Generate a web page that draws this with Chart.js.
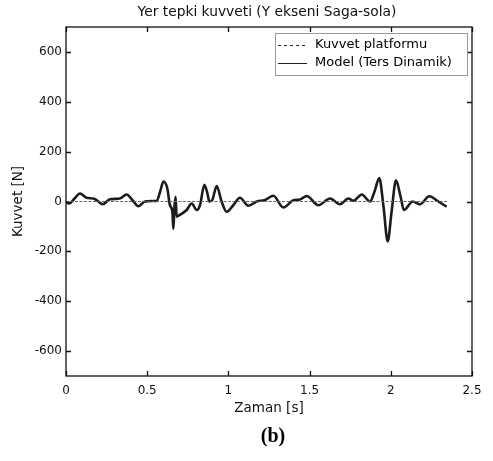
<!DOCTYPE html>
<html>
<head>
<meta charset="utf-8">
<script src="https://cdn.jsdelivr.net/npm/chart.js@4"></script>
<style>
  html, body { margin: 0; padding: 0; background: #fff; }
  #wrap { width: 493px; height: 461px; position: relative; }
</style>
</head>
<body>
<div id="wrap"><canvas id="c" width="493" height="461"></canvas></div>
<script>
const chartTitle = "Yer tepki kuvveti (Y ekseni Saga-sola)";
const panelLabel = "(b)";
const xAxisTitle = "Zaman [s]";
const yAxisTitle = "Kuvvet [N]";
const xTicks = [0, 0.5, 1, 1.5, 2, 2.5];
const yTicks = [-600, -400, -200, 0, 200, 400, 600];

// Kuvvet platformu (dashed) - flat near zero
const platformTime = [0, 0.5, 1.0, 1.5, 2.0, 2.35];
const platformForce = [0, 0, 0, 0, 0, 0];

// Model (Ters Dinamik)
const modelTime = [0.00, 0.02, 0.05, 0.086, 0.127, 0.168, 0.19, 0.226, 0.271, 0.332, 0.373, 0.41, 0.445, 0.486, 0.527, 0.558, 0.58, 0.60, 0.624, 0.64, 0.655, 0.661, 0.668, 0.675, 0.681, 0.70, 0.743, 0.774, 0.805, 0.825, 0.852, 0.87, 0.883, 0.90, 0.928, 0.958, 0.989, 1.03, 1.071, 1.123, 1.174, 1.225, 1.277, 1.338, 1.40, 1.441, 1.482, 1.554, 1.626, 1.687, 1.739, 1.77, 1.821, 1.872, 1.90, 1.929, 1.955, 1.981, 2.005, 2.032, 2.06, 2.081, 2.135, 2.18, 2.237, 2.293, 2.344];
const modelForce = [-2, -8, 10, 32, 15, 12, 5, -11, 9, 12, 28, 5, -19, 0, 2, 2, 40, 80, 52, -15, -40, -110, -20, 19, -61, -54, -34, -8, -34, -15, 67, 35, 0, 5, 62, 0, -41, -15, 15, -17, 0, 6, 23, -24, 5, 8, 22, -15, 12, -11, 12, 3, 28, 0, 40, 94, -20, -160, -40, 85, 20, -34, 0, -11, 21, 0, -21];

const FONT = "'DejaVu Sans', sans-serif";

const framePlugin = {
  id: 'frame',
  afterDraw(chart) {
    const {ctx, chartArea: a, scales} = chart;
    ctx.save();
    ctx.strokeStyle = '#111';
    ctx.lineWidth = 1.3;
    ctx.strokeRect(a.left, a.top, a.right - a.left, a.bottom - a.top);
    const tl = 5;
    ctx.beginPath();
    xTicks.forEach(v => {
      const x = Math.round(scales.x.getPixelForValue(v)) + 0.5;
      ctx.moveTo(x, a.bottom); ctx.lineTo(x, a.bottom - tl);
      ctx.moveTo(x, a.top); ctx.lineTo(x, a.top + tl);
    });
    yTicks.forEach(v => {
      const y = Math.round(scales.y.getPixelForValue(v)) + 0.5;
      ctx.moveTo(a.left, y); ctx.lineTo(a.left + tl, y);
      ctx.moveTo(a.right, y); ctx.lineTo(a.right - tl, y);
    });
    ctx.stroke();

    // title
    ctx.fillStyle = '#111';
    ctx.font = "13.8px " + FONT;
    ctx.textAlign = 'center';
    ctx.textBaseline = 'middle';
    ctx.fillText(chartTitle, (a.left + a.right) / 2 - 2, 12);

    // panel label
    ctx.font = "bold 20px 'Liberation Serif', serif";
    ctx.fillStyle = '#000';
    ctx.fillText(panelLabel, (a.left + a.right) / 2 + 4, 437);

    // legend
    const lx = 275, ly = 33, lw = 192, lh = 42;
    ctx.fillStyle = '#fff';
    ctx.fillRect(lx, ly, lw, lh);
    ctx.strokeStyle = '#999';
    ctx.lineWidth = 1;
    ctx.strokeRect(lx + 0.5, ly + 0.5, lw, lh);
    const ds = chart.data.datasets;
    const rows = [45, 63];
    ds.forEach((d, i) => {
      ctx.beginPath();
      ctx.strokeStyle = '#222';
      ctx.lineWidth = 1;
      ctx.setLineDash(i === 0 ? [3, 3] : []);
      ctx.moveTo(278, rows[i] + 0.5);
      ctx.lineTo(307, rows[i] + 0.5);
      ctx.stroke();
      ctx.setLineDash([]);
      ctx.fillStyle = '#000';
      ctx.font = "13px " + FONT;
      ctx.textAlign = 'left';
      ctx.textBaseline = 'middle';
      ctx.fillText(d.label, 315, rows[i]);
    });
    ctx.restore();
  }
};

new Chart(document.getElementById('c'), {
  type: 'line',
  data: {
    datasets: [
      {
        label: 'Kuvvet platformu',
        data: platformTime.map((t, i) => ({x: t, y: platformForce[i]})),
        borderColor: '#666',
        borderWidth: 1,
        borderDash: [3, 1.5],
        pointRadius: 0,
        fill: false
      },
      {
        label: 'Model (Ters Dinamik)',
        data: modelTime.map((t, i) => ({x: t, y: modelForce[i]})),
        borderColor: '#1c1c1c',
        borderWidth: 2.6,
        pointRadius: 0,
        cubicInterpolationMode: 'monotone',
        fill: false
      }
    ]
  },
  options: {
    responsive: false,
    animation: false,
    devicePixelRatio: 1,
    layout: { padding: { top: 27, right: 21, bottom: 40, left: 0 } },
    plugins: { legend: { display: false }, title: { display: false }, tooltip: { enabled: false } },
    scales: {
      x: {
        type: 'linear',
        min: 0, max: 2.5,
        afterBuildTicks: s => { s.ticks = xTicks.map(v => ({value: v})); },
        afterFit: s => { s.height = 45; },
        grid: { display: false, drawTicks: false },
        border: { display: false },
        ticks: { padding: 8, color: '#111', font: { family: FONT, size: 12 }, maxRotation: 0, autoSkip: false,
                 callback: v => String(v) },
        title: { display: true, text: xAxisTitle, color: '#111', font: { family: FONT, size: 13.5 }, padding: { top: 0, bottom: 4 } }
      },
      y: {
        min: -700, max: 700,
        afterBuildTicks: s => { s.ticks = yTicks.map(v => ({value: v})); },
        afterFit: s => { s.width = 66; },
        grid: { display: false, drawTicks: false },
        border: { display: false },
        ticks: { padding: 4, color: '#111', font: { family: FONT, size: 12 }, autoSkip: false,
                 callback: v => String(v) },
        title: { display: true, text: yAxisTitle, color: '#111', font: { family: FONT, size: 13.5 }, padding: { top: 10, bottom: 0 } }
      }
    }
  },
  plugins: [framePlugin]
});
</script>
</body>
</html>
